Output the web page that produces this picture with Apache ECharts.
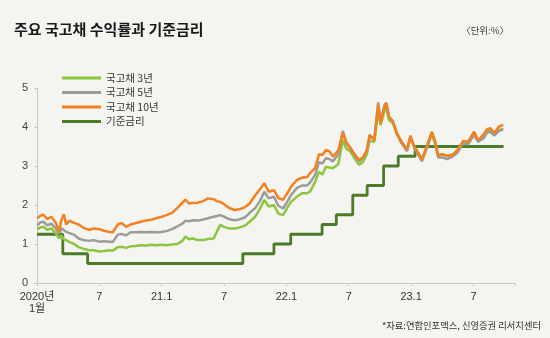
<!DOCTYPE html>
<html>
<head>
<meta charset="utf-8">
<script src="https://cdn.jsdelivr.net/npm/echarts@6/dist/echarts.min.js"></script>
<style>
html,body{margin:0;padding:0;background:#f4f5f0;}
#c{width:550px;height:338px;}
</style>
</head>
<body>
<div id="c"></div>
<script>
// ---- data ----
var dates = [
'2020-01-02','2020-01-10','2020-01-20','2020-02-01','2020-02-12','2020-02-24','2020-03-05','2020-03-12','2020-03-19','2020-03-26',
'2020-04-05','2020-04-18','2020-05-01','2020-05-15','2020-06-01','2020-06-15','2020-07-01','2020-07-15','2020-08-01','2020-08-10',
'2020-08-25','2020-09-05','2020-09-18','2020-10-01','2020-10-15','2020-11-01','2020-11-15','2020-12-01','2020-12-15','2021-01-01',
'2021-01-15','2021-02-01','2021-02-15','2021-03-01','2021-03-10','2021-03-20','2021-04-01','2021-04-15','2021-05-01','2021-05-15',
'2021-06-01','2021-06-10','2021-06-20','2021-07-01','2021-07-15','2021-08-01','2021-08-15','2021-09-01','2021-09-15','2021-10-01',
'2021-10-15','2021-10-28','2021-11-10','2021-11-25','2021-12-08','2021-12-22','2022-01-05','2022-01-15','2022-02-01','2022-02-15',
'2022-03-01','2022-03-10','2022-03-25','2022-04-05','2022-04-15','2022-04-25','2022-05-05','2022-05-16','2022-06-01','2022-06-14',
'2022-06-24','2022-07-05','2022-07-18','2022-08-01','2022-08-12','2022-08-24','2022-09-01','2022-09-15','2022-09-26','2022-10-03',
'2022-10-14','2022-10-20','2022-10-28','2022-11-08','2022-11-20','2022-12-01','2022-12-12','2022-12-20','2022-12-30','2023-01-12',
'2023-01-25','2023-02-02','2023-02-15','2023-03-01','2023-03-10','2023-03-20','2023-04-01','2023-04-15','2023-05-01','2023-05-15',
'2023-06-01','2023-06-15','2023-07-03','2023-07-15','2023-08-01','2023-08-10','2023-08-20','2023-09-01','2023-09-15','2023-09-27'
];
var ktb3 = [
1.38,1.42,1.44,1.36,1.40,1.28,1.14,1.22,1.12,1.10,
1.05,1.00,0.92,0.88,0.84,0.84,0.81,0.82,0.84,0.83,
0.92,0.93,0.90,0.94,0.95,0.97,0.96,0.98,0.97,0.98,
0.97,0.99,1.00,1.08,1.19,1.12,1.14,1.10,1.10,1.13,
1.14,1.31,1.49,1.44,1.40,1.40,1.42,1.47,1.57,1.70,
1.90,2.13,1.96,2.00,1.78,1.74,1.95,2.08,2.21,2.30,
2.30,2.35,2.60,2.85,2.78,2.98,2.96,2.94,3.05,3.67,
3.45,3.38,3.20,3.03,3.10,3.30,3.65,3.62,4.40,4.05,
4.40,4.50,4.18,4.10,3.82,3.62,3.50,3.40,3.72,3.48,
3.30,3.18,3.48,3.88,3.66,3.28,3.30,3.26,3.30,3.40,
3.62,3.60,3.86,3.66,3.78,3.88,3.90,3.80,3.92,3.96
];
var ktb5 = [
1.48,1.55,1.57,1.48,1.52,1.40,1.27,1.40,1.36,1.31,
1.28,1.24,1.14,1.10,1.08,1.10,1.06,1.07,1.06,1.05,
1.24,1.26,1.22,1.30,1.30,1.31,1.30,1.31,1.30,1.31,
1.33,1.38,1.45,1.52,1.60,1.58,1.61,1.60,1.63,1.66,
1.70,1.72,1.74,1.70,1.64,1.61,1.63,1.68,1.80,1.92,
2.10,2.34,2.17,2.21,1.98,1.91,2.10,2.26,2.43,2.50,
2.50,2.58,2.78,3.10,3.06,3.20,3.18,3.12,3.30,3.90,
3.60,3.48,3.30,3.12,3.20,3.40,3.75,3.70,4.63,4.15,
4.55,4.62,4.25,4.15,3.83,3.62,3.48,3.38,3.75,3.44,
3.25,3.12,3.44,3.84,3.60,3.22,3.22,3.18,3.24,3.34,
3.58,3.55,3.80,3.62,3.72,3.85,3.88,3.78,3.90,3.94
];
var ktb10 = [
1.66,1.72,1.75,1.64,1.70,1.55,1.32,1.62,1.76,1.50,
1.60,1.54,1.50,1.42,1.36,1.40,1.38,1.34,1.31,1.30,
1.50,1.54,1.44,1.50,1.53,1.57,1.60,1.62,1.66,1.70,
1.74,1.80,1.92,2.06,2.14,2.04,2.05,2.06,2.10,2.17,
2.15,2.10,2.08,2.02,1.93,1.87,1.89,1.94,2.04,2.25,
2.40,2.56,2.34,2.38,2.18,2.13,2.32,2.47,2.64,2.70,
2.72,2.82,2.95,3.30,3.28,3.41,3.38,3.24,3.40,3.85,
3.60,3.46,3.30,3.16,3.22,3.40,3.80,3.67,4.57,4.10,
4.50,4.62,4.27,4.15,3.85,3.66,3.52,3.42,3.78,3.46,
3.30,3.16,3.50,3.86,3.62,3.26,3.30,3.26,3.28,3.40,
3.64,3.62,3.88,3.66,3.82,3.94,3.97,3.85,4.01,4.06
];
var baseDates = ['2020-01-01','2020-03-16','2020-05-28','2021-08-26','2021-11-25','2022-01-14','2022-04-14','2022-05-26','2022-07-13','2022-08-25','2022-10-12','2022-11-24','2023-01-13','2023-09-28'];
var baseRate = [1.25,0.75,0.50,0.75,1.00,1.25,1.50,1.75,2.25,2.50,3.00,3.25,3.50,3.50];
var seriesNames = ['국고채 3년','국고채 5년','국고채 10년','기준금리'];
var yTicks = [0,1,2,3,4,5];
var xTickLabels = {0:'2020년\n1월',6:'7',12:'21.1',18:'7',24:'22.1',30:'7',36:'23.1',42:'7'};

// month offset from 2020-01-01
function toMonth(s){
  var p = s.split('-'); var y=+p[0], m=+p[1], d=+p[2];
  var dim = new Date(y, m, 0).getDate();
  return (y-2020)*12 + (m-1) + (d-1)/dim;
}
function pairs(ds, vs){ return ds.map(function(d,i){ return [toMonth(d), vs[i]]; }); }

var FONT = "'Liberation Sans','Noto Sans CJK KR',sans-serif";
var colors = ['#8cc63e','#9b9b9b','#f4801f','#4b7b27'];

var chart = echarts.init(document.getElementById('c'), null, {renderer:'canvas'});
chart.setOption({
  backgroundColor:'#f4f5f0',
  animation:false,
  title:[
    {text:'주요 국고채 수익률과 기준금리', left:9, top:17,
     textStyle:{fontFamily:"'Noto Sans CJK KR',sans-serif", fontSize:15, fontWeight:'bold', color:'#1a1a1a'}},
    {text:'〈단위:%〉', right:36, top:21,
     textStyle:{fontFamily:"'Noto Sans CJK KR',sans-serif", fontSize:9.5, fontWeight:'normal', color:'#444'}},
    {text:'*자료:연합인포맥스, 신영증권 리서치센터', right:4, top:316,
     textStyle:{fontFamily:"'Noto Sans CJK KR',sans-serif", fontSize:9.3, fontWeight:'normal', color:'#333'}}
  ],
  legend:{
    orient:'vertical', left:57, top:67, itemWidth:39, itemHeight:3, itemGap:2.5,
    icon:'rect',
    data:seriesNames,
    textStyle:{fontFamily:"'Noto Sans CJK KR',sans-serif", fontSize:10.5, color:'#333', lineHeight:12}
  },
  grid:{left:37, right:35, top:88, bottom:55},
  xAxis:{
    type:'value', min:0, max:46, interval:6,
    splitLine:{show:false},
    axisLine:{lineStyle:{color:'#c8c8c8', width:1}},
    axisTick:{show:true, length:3, lineStyle:{color:'#c8c8c8'}},
    axisLabel:{fontFamily:FONT, fontSize:11, color:'#333', margin:8, lineHeight:12,
      formatter:function(v){ return xTickLabels[v] !== undefined ? xTickLabels[v] : ''; }}
  },
  yAxis:{
    type:'value', min:yTicks[0], max:yTicks[yTicks.length-1], interval:1,
    splitLine:{show:false},
    axisLine:{show:true, lineStyle:{color:'#c8c8c8', width:1}},
    axisTick:{show:true, length:3, lineStyle:{color:'#c8c8c8'}},
    axisLabel:{fontFamily:FONT, fontSize:11, color:'#444', margin:9}
  },
  series:[
    {name:seriesNames[0], type:'line', data:pairs(dates,ktb3), showSymbol:false, z:3,
     lineStyle:{color:colors[0], width:2.5}, itemStyle:{color:colors[0]}},
    {name:seriesNames[1], type:'line', data:pairs(dates,ktb5), showSymbol:false, z:4,
     lineStyle:{color:colors[1], width:2.5}, itemStyle:{color:colors[1]}},
    {name:seriesNames[2], type:'line', data:pairs(dates,ktb10), showSymbol:false, z:5,
     lineStyle:{color:colors[2], width:2.5}, itemStyle:{color:colors[2]}},
    {name:seriesNames[3], type:'line', step:'end', data:pairs(baseDates,baseRate), showSymbol:false, z:2,
     lineStyle:{color:colors[3], width:2.8}, itemStyle:{color:colors[3]}}
  ]
});
</script>
</body>
</html>
